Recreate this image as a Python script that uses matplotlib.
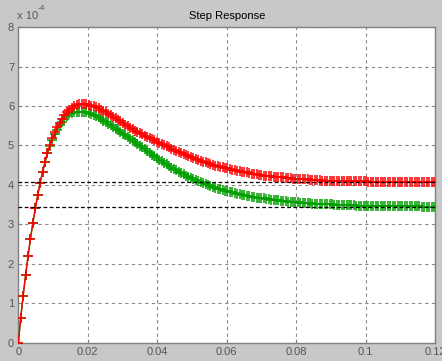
import numpy as np
import matplotlib
matplotlib.use("Agg")
import matplotlib.pyplot as plt

plt.rcParams['font.family'] = ['Liberation Sans', 'DejaVu Sans']

# time samples (s)
dt = 0.0007
n_samples = 172

# step response values, in units of 1e-4
red_vals = [
    0, 0.64, 1.2, 1.72, 2.2, 2.64, 3.04, 3.41, 3.75, 4.06,
    4.34, 4.59, 4.82, 5.02, 5.18, 5.33, 5.46, 5.58, 5.68, 5.77,
    5.85, 5.91, 5.96, 5.99, 6.02, 6.04, 6.05, 6.05, 6.04, 6.03,
    6.01, 5.99, 5.97, 5.94, 5.91, 5.88, 5.85, 5.81, 5.77, 5.73,
    5.69, 5.65, 5.61, 5.57, 5.53, 5.49, 5.45, 5.41, 5.37, 5.34,
    5.31, 5.28, 5.25, 5.22, 5.19, 5.16, 5.13, 5.10, 5.07, 5.04,
    5.01, 4.98, 4.95, 4.92, 4.89, 4.86, 4.83, 4.80, 4.78, 4.75,
    4.73, 4.70, 4.68, 4.66, 4.63, 4.61, 4.59, 4.57, 4.55, 4.53,
    4.51, 4.49, 4.48, 4.46, 4.45, 4.43, 4.42, 4.40, 4.39, 4.38,
    4.36, 4.35, 4.34, 4.33, 4.32, 4.30, 4.29, 4.28, 4.27, 4.26,
    4.25, 4.24, 4.24, 4.23, 4.22, 4.21, 4.21, 4.20, 4.19, 4.19,
    4.18, 4.17, 4.17, 4.16, 4.16, 4.15, 4.15, 4.14, 4.14, 4.14,
    4.13, 4.13, 4.12, 4.12, 4.12, 4.11, 4.11, 4.11, 4.11, 4.10,
    4.10, 4.10, 4.10, 4.10, 4.10, 4.10, 4.09, 4.09, 4.09, 4.09,
    4.09, 4.09, 4.09, 4.09, 4.08, 4.08, 4.08, 4.08, 4.08, 4.08,
    4.08, 4.08, 4.08, 4.08, 4.08, 4.08, 4.07, 4.07, 4.07, 4.07,
    4.07, 4.07, 4.07, 4.07, 4.07, 4.07, 4.07, 4.07, 4.07, 4.07,
    4.07, 4.07,
]

green_vals = [
    0, 0.64, 1.2, 1.72, 2.2, 2.64, 3.04, 3.41, 3.75, 4.06,
    4.33, 4.57, 4.80, 4.99, 5.14, 5.28, 5.40, 5.51, 5.60, 5.68,
    5.74, 5.79, 5.82, 5.84, 5.86, 5.86, 5.86, 5.86, 5.85, 5.83,
    5.81, 5.78, 5.75, 5.71, 5.67, 5.63, 5.59, 5.55, 5.51, 5.47,
    5.43, 5.39, 5.35, 5.30, 5.26, 5.21, 5.17, 5.13, 5.08, 5.04,
    4.99, 4.95, 4.91, 4.86, 4.82, 4.77, 4.73, 4.69, 4.64, 4.60,
    4.56, 4.52, 4.48, 4.44, 4.41, 4.37, 4.33, 4.30, 4.27, 4.24,
    4.21, 4.18, 4.15, 4.12, 4.09, 4.07, 4.04, 4.02, 3.99, 3.97,
    3.95, 3.93, 3.91, 3.89, 3.88, 3.86, 3.84, 3.83, 3.81, 3.80,
    3.78, 3.77, 3.75, 3.74, 3.73, 3.72, 3.70, 3.69, 3.68, 3.67,
    3.66, 3.66, 3.65, 3.64, 3.63, 3.62, 3.61, 3.61, 3.60, 3.59,
    3.59, 3.58, 3.58, 3.57, 3.56, 3.56, 3.55, 3.55, 3.55, 3.54,
    3.54, 3.53, 3.53, 3.53, 3.52, 3.52, 3.52, 3.51, 3.51, 3.51,
    3.50, 3.50, 3.50, 3.50, 3.49, 3.49, 3.49, 3.49, 3.49, 3.48,
    3.48, 3.48, 3.48, 3.48, 3.48, 3.48, 3.47, 3.47, 3.47, 3.47,
    3.47, 3.47, 3.47, 3.47, 3.47, 3.47, 3.46, 3.46, 3.46, 3.46,
    3.46, 3.46, 3.46, 3.46, 3.46, 3.46, 3.45, 3.45, 3.45, 3.45,
    3.45, 3.45,
]

# steady-state reference levels (units of 1e-4)
steady_levels = [4.07, 3.44]

x_ticks = [0, 0.02, 0.04, 0.06, 0.08, 0.1, 0.12]
x_tick_labels = ['0', '0.02', '0.04', '0.06', '0.08', '0.1', '0.12']
y_ticks = [0, 1, 2, 3, 4, 5, 6, 7, 8]
y_tick_labels = ['0', '1', '2', '3', '4', '5', '6', '7', '8']

t = np.arange(n_samples) * dt

fig = plt.figure(figsize=(4.42, 3.61), dpi=100, facecolor='#c8c8c8')
ax = fig.add_axes([0.0414, 0.0499, 0.9430, 0.8753])
ax.set_facecolor('white')

ax.plot(t, green_vals, color='#00a000', lw=1.0, marker='+', ms=6.5, mew=1.1, zorder=3)
ax.plot(t, red_vals, color='#ff0000', lw=1.0, marker='+', ms=6.5, mew=1.1, zorder=4)

for lv in steady_levels:
    ax.axhline(lv, color='black', lw=0.9, ls=(0, (3, 2)), zorder=5)

ax.set_xlim(0, 0.12)
ax.set_ylim(0, 8)
ax.set_xticks(x_ticks)
ax.set_xticklabels(x_tick_labels)
ax.set_yticks(y_ticks)
ax.set_yticklabels(y_tick_labels)
ax.tick_params(direction='in', length=3, width=0.8, colors='#808080',
               labelcolor='#555555', labelsize=8, pad=3)
ax.grid(True, color='#8a8a8a', ls=(0, (3, 3)), lw=0.8, zorder=1)
for s in ax.spines.values():
    s.set_color('#808080')
    s.set_linewidth(1.0)

ax.set_title('Step Response', fontsize=8, color='black', pad=6)

fig.text(17 / 442, 1 - 16 / 361, 'x 10', fontsize=8, color='#555555', va='center', ha='left')
fig.text(38 / 442, 1 - 9 / 361, '-4', fontsize=6, color='#555555', va='center', ha='left')

fig.savefig('out.png', dpi=100, facecolor=fig.get_facecolor())
